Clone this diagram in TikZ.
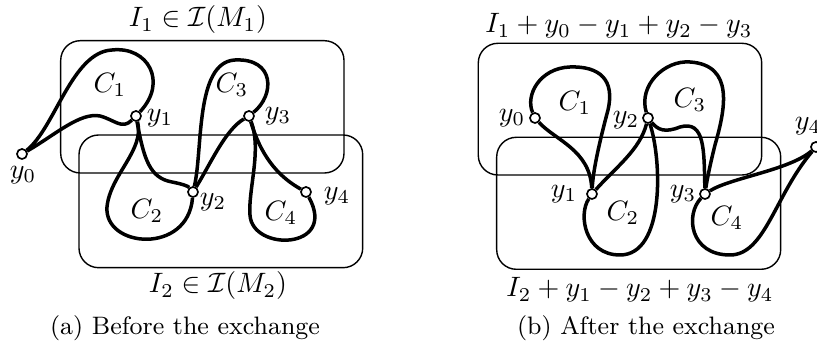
\documentclass[tikz,border=0pt]{standalone}
\usepackage{amsmath,amssymb}
\usepackage{tikz}
\usetikzlibrary{arrows.meta,calc,positioning}

\begin{document}
\begin{tikzpicture}[x=0.01255cm,y=-0.01255cm,
  vtx/.style={circle,draw,fill=white,line width=0.6pt,inner sep=0pt,minimum size=3.6pt},
  box/.style={rounded corners=7pt,line width=0.5pt},
  cyc/.style={line width=1.25pt},
  lbl/.style={inner sep=0pt}]
\useasboundingbox (0,0) rectangle (817,358);
% (a) before the exchange
\draw[box] (60.7,40.7) rectangle (344,173);
\draw[box] (79,135) rectangle (362.7,267.7);
\node (ta1) at (198,20) {$I_1\in\mathcal{I}(M_1)$};
\node (ta2) at (218,286) {$I_2\in\mathcal{I}(M_2)$};
\node[vtx] (a0) at (22,154) {}; \node[vtx] (a1) at (136,116) {}; \node[vtx] (a2) at (193,192) {};
\node[vtx] (a3) at (249,116) {}; \node[vtx] (a4) at (306,192) {};
\node[lbl] (la0) at ($(a0)+(1,21)$) {$y_0$}; \node[lbl] (la1) at ($(a1)+(24,2)$) {$y_1$};
\node[lbl] (la2) at ($(a2)+(20,10)$) {$y_2$}; \node[lbl] (la3) at ($(a3)+(29,0)$) {$y_3$};
\node[lbl] (la4) at ($(a4)+(31,4)$) {$y_4$};
\node (ca1) at (110,85) {$C_1$}; \node (ca2) at (147,211) {$C_2$};
\node (ca3) at (232,85) {$C_3$}; \node (ca4) at (281,213) {$C_4$};
\draw[cyc] (a0) .. controls (55,128) and (72,52) .. (112,50) .. controls (148,46) and (168,82) .. (a1);
\draw[cyc] (a0) .. controls (55,135) and (80,112) .. (100,116) .. controls (115,120) and (122,130) .. (a1);
\draw[cyc] (a1) .. controls (145,150) and (110,175) .. (107,207) .. controls (104,248) and (188,255) .. (a2);
\draw[cyc] (a1) .. controls (144,160) and (150,178) .. (172,182) .. controls (182,184) and (188,186) .. (a2);
\draw[cyc] (a2) .. controls (203,150) and (195,62) .. (235,60) .. controls (275,58) and (275,95) .. (a3);
\draw[cyc] (a2) .. controls (210,165) and (225,130) .. (a3);
\draw[cyc] (a3) .. controls (262,150) and (248,190) .. (250,215) .. controls (252,252) and (338,250) .. (a4);
\draw[cyc] (a3) .. controls (258,145) and (270,172) .. (a4);
\node[font=\small] (capa) at (185,328) {(a) Before the exchange};
% (b) after the exchange
\draw[box] (478.3,43.3) rectangle (761.7,175);
\draw[box] (496.7,137.3) rectangle (780.7,269.3);
\node (tb1) at (619,26) {$I_1+y_0-y_1+y_2-y_3$};
\node (tb2) at (640,290) {$I_2+y_1-y_2+y_3-y_4$};
\node[vtx] (b0) at (535,118) {}; \node[vtx] (b1) at (592,194) {}; \node[vtx] (b2) at (648,118) {};
\node[vtx] (b3) at (705,194) {}; \node[vtx] (b4) at (816,147) {};
\node[lbl] (lb0) at ($(b0)+(-23,0)$) {$y_0$}; \node[lbl] (lb1) at ($(b1)+(-28,0)$) {$y_1$};
\node[lbl] (lb2) at ($(b2)+(-22,2)$) {$y_2$}; \node[lbl] (lb3) at ($(b3)+(-22,0)$) {$y_3$};
\node[lbl] (lb4) at ($(b4)+(-8,-21)$) {$y_4$};
\node (cb1) at (575,103) {$C_1$}; \node (cb2) at (623,213) {$C_2$};
\node (cb3) at (690,100) {$C_3$}; \node (cb4) at (727,218) {$C_4$};
\draw[cyc] (b0) .. controls (525,95) and (540,68) .. (570,67) .. controls (600,66) and (615,80) .. (608,110) .. controls (600,140) and (593,170) .. (b1);
\draw[cyc] (b0) .. controls (555,140) and (590,150) .. (b1);
\draw[cyc] (b1) .. controls (578,215) and (585,255) .. (620,255) .. controls (665,255) and (662,160) .. (b2);
\draw[cyc] (b1) .. controls (615,168) and (640,150) .. (b2);
\draw[cyc] (b2) .. controls (638,85) and (665,60) .. (690,62) .. controls (735,65) and (725,110) .. (715,145) .. controls (710,165) and (707,180) .. (b3);
\draw[cyc] (b2) .. controls (658,130) and (665,133) .. (680,127) .. controls (705,120) and (704,150) .. (b3);
\draw[cyc] (b3) .. controls (685,215) and (690,255) .. (730,255) .. controls (765,255) and (775,195) .. (b4);
\draw[cyc] (b3) .. controls (730,178) and (790,170) .. (b4);
\node[font=\small] (capb) at (646,328) {(b) After the exchange};
\end{tikzpicture}
\end{document}
